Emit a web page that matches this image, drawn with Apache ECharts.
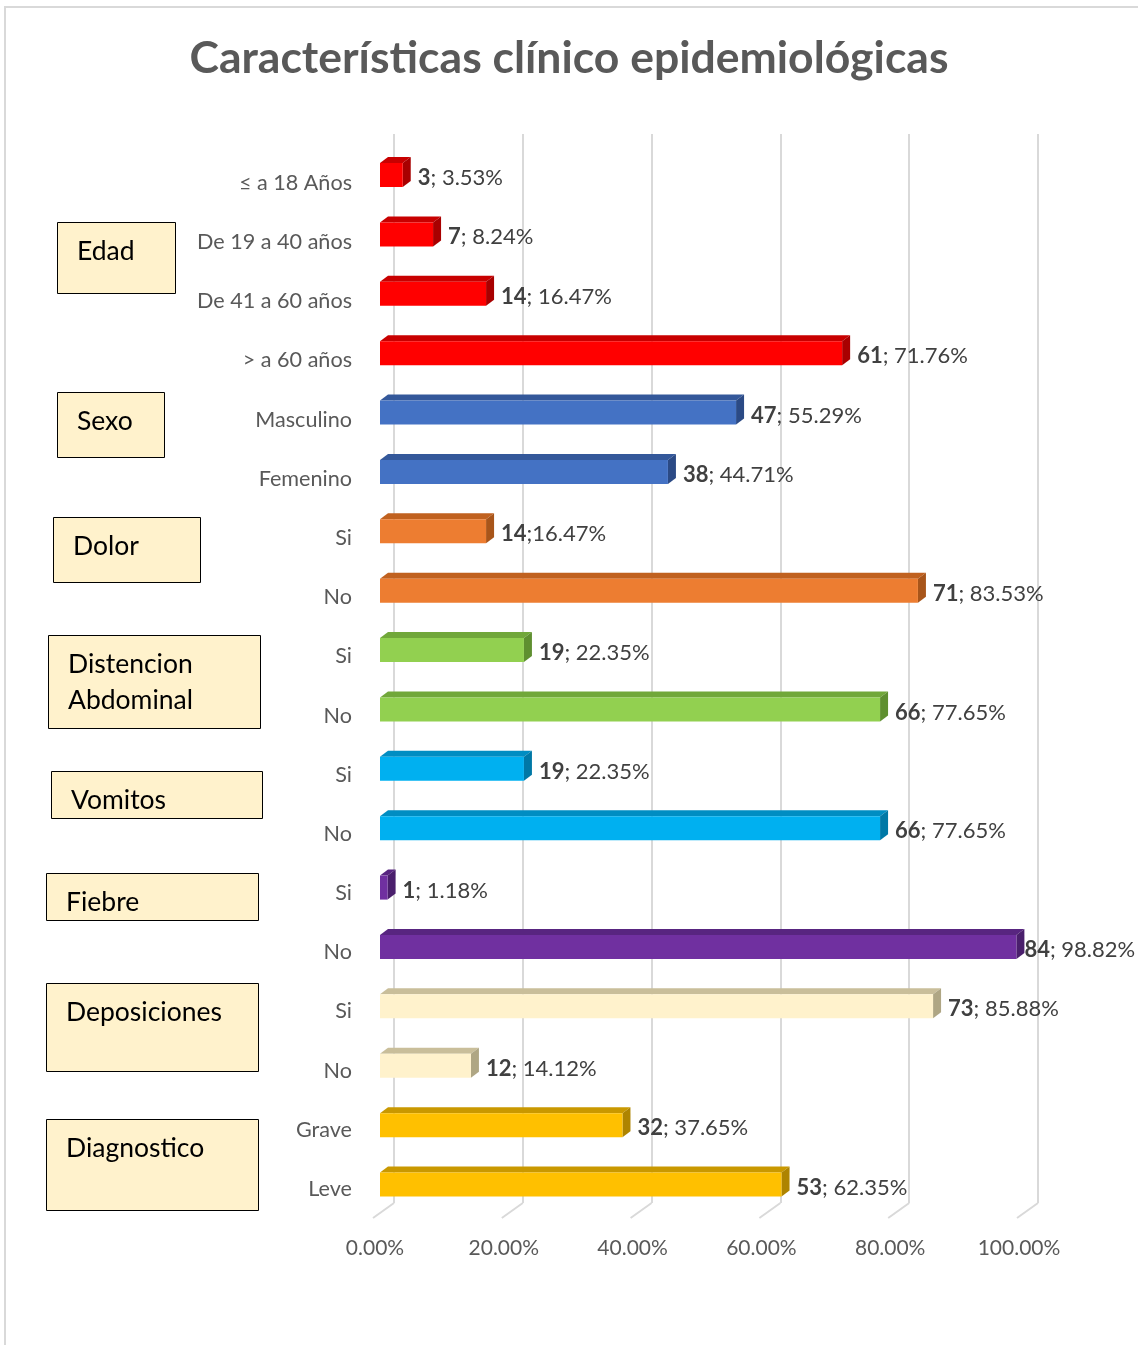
<!DOCTYPE html>
<html>
<head>
<meta charset="utf-8">
<script src="https://cdn.jsdelivr.net/npm/echarts@6/dist/echarts.min.js"></script>
<style>
html,body{margin:0;padding:0;background:#fff;}
#c{width:1138px;height:1345px;}
</style>
</head>
<body>
<div id="c"></div>
<script>
// ---- data ----
const categories = ['≤ a 18 Años','De 19 a 40 años','De 41 a 60 años','> a 60 años','Masculino','Femenino','Si','No','Si','No','Si','No','Si','No','Si','No','Grave','Leve'];
const counts = [3,7,14,61,47,38,14,71,19,66,19,66,1,84,73,12,32,53];
const percents = [3.53,8.24,16.47,71.76,55.29,44.71,16.47,83.53,22.35,77.65,22.35,77.65,1.18,98.82,85.88,14.12,37.65,62.35];
const separators = ['; ','; ','; ','; ','; ','; ',';','; ','; ','; ','; ','; ','; ','; ','; ','; ','; ','; '];
const groupOfCategory = [0,0,0,0,1,1,2,2,3,3,4,4,5,5,6,6,7,7];
const groupNames = ['Edad','Sexo','Dolor','Distencion\nAbdominal','Vomitos','Fiebre','Deposiciones','Diagnostico'];
const tickValues = [0,0.2,0.4,0.6,0.8,1];
const titleText = 'Características clínico epidemiológicas';

// ---- styles ----
const FONT = 'Lato';
const groupColors = [
  {front:'#FF0000', top:'#C80000', side:'#A80000'},
  {front:'#4472C4', top:'#34589A', side:'#2B4A85'},
  {front:'#ED7D31', top:'#C0611F', side:'#A8551A'},
  {front:'#92D050', top:'#71A73A', side:'#5F8F30'},
  {front:'#00B0F0', top:'#008DC2', side:'#0078A6'},
  {front:'#7030A0', top:'#582580', side:'#4A1F6C'},
  {front:'#FFF2CC', top:'#C9BE9A', side:'#AFA684'},
  {front:'#FFC000', top:'#C99800', side:'#AE8400'}
];
const boxes = [
  {x:57,y:222,w:118,h:71},
  {x:57,y:392,w:107,h:65},
  {x:53,y:517,w:147,h:65},
  {x:48,y:635,w:212,h:93},
  {x:51,y:771,w:211,h:47},
  {x:46,y:873,w:212,h:47},
  {x:46,y:983,w:212,h:88},
  {x:46,y:1119,w:212,h:91}
];

const barData = counts.map((c,i)=>[percents[i]/100, i, c]);

const measureCtx = document.createElement('canvas').getContext('2d');
function textWidth(boldPart, rest){
  measureCtx.font = 'bold 22px ' + FONT;
  let w = measureCtx.measureText(boldPart).width;
  measureCtx.font = '22px ' + FONT;
  return w + measureCtx.measureText(rest).width;
}

const chart = echarts.init(document.getElementById('c'), null, {renderer:'canvas'});

const graphics = [
  {type:'rect', shape:{x:5,y:7,width:1200,height:1400}, style:{fill:'none', stroke:'#D9D9D9', lineWidth:2}, silent:true, z:-10}
];
groupNames.forEach((name,i)=>{
  const b = boxes[i];
  graphics.push({type:'rect', shape:{x:b.x+0.5,y:b.y+0.5,width:b.w,height:b.h}, style:{fill:'#FFF2CC', stroke:'#000', lineWidth:1}, z:5});
  graphics.push({type:'text', x:b.x+20, y:b.y+11, style:{text:name, fill:'#000', font:'26.5px '+FONT, lineHeight:36, textVerticalAlign:'top'}, z:6});
});

function renderBar(params, api){
  const v = api.value(0), idx = api.value(1);
  const i = params.dataIndex;
  const col = groupColors[groupOfCategory[i]];
  const p0 = api.coord([0, idx]);
  const p1 = api.coord([v, idx]);
  const h = 24, dx = 8, dy = 6;
  const x0 = p0[0], x1 = p1[0];
  const top = p0[1] - h/2, bot = p0[1] + h/2;
  const boldPart = String(counts[i]);
  const rest = separators[i] + percents[i].toFixed(2) + '%';
  let lx = x1 + dx + 7;
  const tw = textWidth(boldPart, rest);
  const maxRight = api.getWidth() - 6;
  if (lx + tw > maxRight) lx = Math.max(x1 + dx, maxRight - tw);
  return {
    type:'group',
    children:[
      {type:'polygon', shape:{points:[[x0,top],[x0+dx,top-dy],[x1+dx,top-dy],[x1,top]]}, style:{fill:col.top}},
      {type:'polygon', shape:{points:[[x1,top],[x1+dx,top-dy],[x1+dx,bot-dy],[x1,bot]]}, style:{fill:col.side}},
      {type:'rect', shape:{x:x0,y:top,width:x1-x0,height:h}, style:{fill:col.front}},
      {type:'text', x:lx, y:p0[1]+3, style:{
        text:'{b|'+boldPart+'}'+rest,
        fill:'#404040', fontSize:22, fontFamily:FONT, verticalAlign:'middle', align:'left',
        rich:{b:{fontWeight:'bold', fill:'#404040', fontSize:22, fontFamily:FONT}}
      }}
    ]
  };
}

function renderFloor(params, api){
  const p = api.coord([api.value(0), 0]);
  return {type:'line', shape:{x1:p[0], y1:p[1], x2:p[0]-21, y2:p[1]+15}, style:{stroke:'#D9D9D9', lineWidth:2}};
}

const option = {
  animation:false,
  backgroundColor:'#fff',
  title:{text:titleText, left:'center', top:31, textStyle:{fontFamily:FONT, fontSize:44.5, fontWeight:'bold', color:'#595959'}},
  graphic:graphics,
  grid:[
    {left:394, width:644, top:134, height:1069},
    {left:380, width:644, top:145.3, height:1068.9},
    {left:375, width:644, top:200, height:1018},
    {left:380, width:644, top:153.4, height:1065.2}
  ],
  xAxis:[
    {gridIndex:0, type:'value', min:0, max:1, interval:0.2, axisLine:{show:false}, axisTick:{show:false}, axisLabel:{show:false}, splitLine:{show:true, lineStyle:{color:'#D9D9D9', width:2}}},
    {gridIndex:1, type:'value', min:0, max:1, interval:0.2, show:false},
    {gridIndex:2, type:'value', min:0, max:1, interval:0.2, axisLine:{show:false}, axisTick:{show:false}, splitLine:{show:false},
      axisLabel:{margin:20, fontFamily:FONT, fontSize:21, color:'#595959', formatter:v=>(v*100).toFixed(2)+'%'}},
    {gridIndex:3, type:'value', min:0, max:1, show:false}
  ],
  yAxis:[
    {gridIndex:0, type:'value', min:0, max:1, show:false},
    {gridIndex:1, type:'category', data:categories, inverse:true, show:false},
    {gridIndex:2, type:'value', min:0, max:1, show:false},
    {gridIndex:3, type:'category', data:categories, inverse:true, axisLine:{show:false}, axisTick:{show:false}, splitLine:{show:false},
      axisLabel:{margin:28, fontFamily:FONT, fontSize:21.6, color:'#595959'}}
  ],
  series:[
    {type:'custom', xAxisIndex:0, yAxisIndex:0, data:tickValues.map(v=>[v,0]), renderItem:renderFloor, silent:true, z:1},
    {type:'custom', xAxisIndex:1, yAxisIndex:1, data:barData, renderItem:renderBar, encode:{x:0,y:1}, z:3, clip:false}
  ]
};
chart.setOption(option);
</script>
</body>
</html>
